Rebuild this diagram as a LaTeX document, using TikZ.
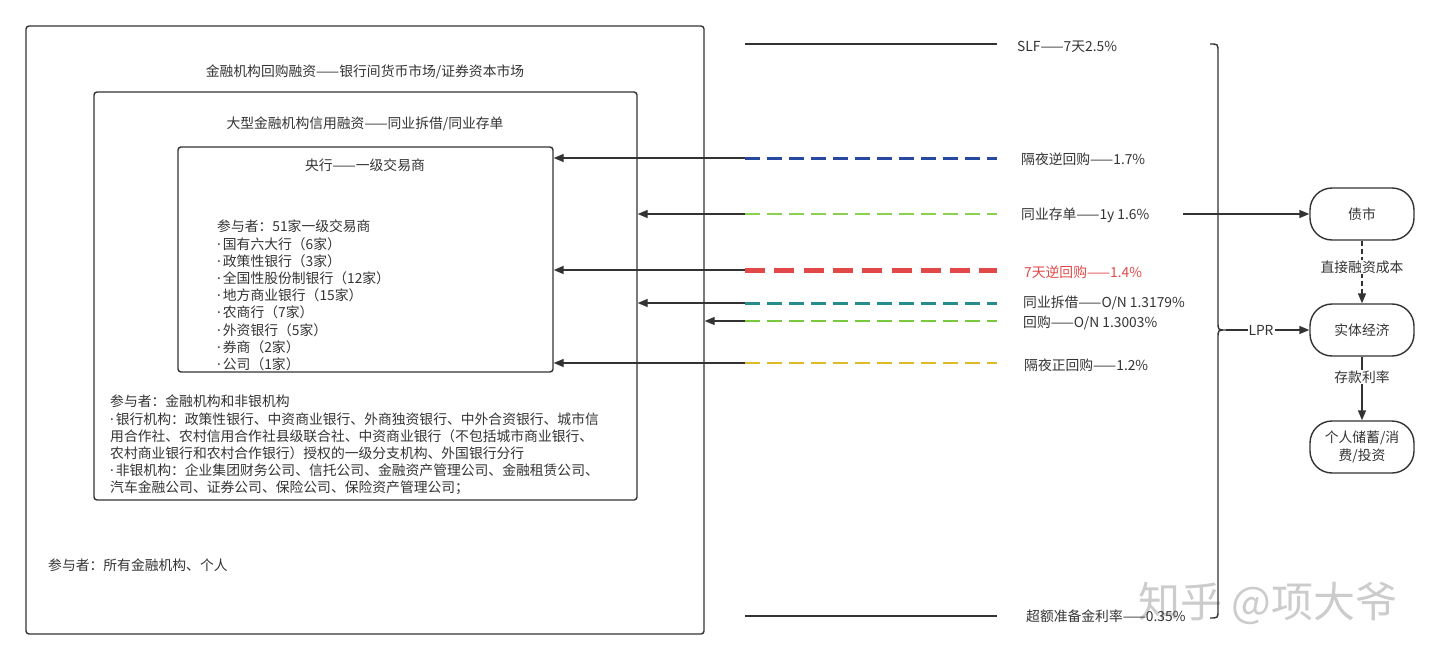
\documentclass[tikz,border=0pt]{standalone}
\usepackage{fontspec}
\setmainfont{Noto Sans CJK SC}
\newfontfamily\latinfont{Noto Sans}
\newcommand\mdot{{\latinfont ·}\kern2pt}
\usetikzlibrary{arrows.meta}
\definecolor{ink}{HTML}{333333}
\definecolor{cblue}{RGB}{41,72,160}
\definecolor{cgreen}{RGB}{140,208,80}
\definecolor{cred}{RGB}{226,72,72}
\definecolor{cteal}{RGB}{38,140,140}
\definecolor{cgreenb}{RGB}{122,200,62}
\definecolor{cyellow}{RGB}{222,186,40}
\begin{document}
\begin{tikzpicture}[x=1pt,y=-1pt,
  font=\fontsize{13.8}{17.2}\selectfont, text=ink,
  box/.style={draw=ink, line width=1.4pt, rounded corners=3pt, inner sep=0pt},
  pill/.style={draw=ink, line width=1.4pt, rounded corners=22pt, minimum width=104pt, minimum height=52pt, align=center, inner sep=0pt},
  lbl/.style={anchor=west, inner sep=0pt},
  conn/.style={draw=ink, line width=1.4pt, -{Triangle[length=10pt,width=8pt]}},
  rate/.style={line width=#1, dash pattern=on 15pt off 7pt},
  txt/.style={inner sep=0pt, align=left, anchor=north west}
]
\useasboundingbox (0,0) rectangle (1440,661);

% boxes
\node[box, minimum width=678pt, minimum height=608pt] (fm) at (365,330) {};
\node[box, minimum width=543pt, minimum height=408pt] (ib) at (365.5,296) {};
\node[box, minimum width=375pt, minimum height=225pt] (pd) at (365.5,259.5) {};

\node[inner sep=0pt] (t1) at (365,72) {金融机构回购融资——银行间货币市场/证券资本市场};
\node[inner sep=0pt] (t2) at (365,124) {大型金融机构信用融资——同业拆借/同业存单};
\node[inner sep=0pt] (t3) at (365,165) {央行——一级交易商};

\node[txt] (p1) at (217,220) {参与者：51家一级交易商\\
\mdot 国有六大行（6家）\\
\mdot 政策性银行（3家）\\
\mdot 全国性股份制银行（12家）\\
\mdot 地方商业银行（15家）\\
\mdot 农商行（7家）\\
\mdot 外资银行（5家）\\
\mdot 券商（2家）\\
\mdot 公司（1家）};

\node[txt] (p2) at (110,395) {参与者：金融机构和非银机构\\
\mdot 银行机构：政策性银行、中资商业银行、外商独资银行、中外合资银行、城市信\\
用合作社、农村信用合作社县级联合社、中资商业银行（不包括城市商业银行、\\
农村商业银行和农村合作银行）授权的一级分支机构、外国银行分行\\
\mdot 非银机构：企业集团财务公司、信托公司、金融资产管理公司、金融租赁公司、\\
汽车金融公司、证券公司、保险公司、保险资产管理公司；};

\node[lbl] (p3) at (48,565) {参与者：所有金融机构、个人};

% rate lines
\coordinate (s0) at (745,44);  \coordinate (s1) at (997,44);
\coordinate (b0) at (745,158); \coordinate (b1) at (997,158);
\coordinate (g0) at (745,214); \coordinate (g1) at (997,214);
\coordinate (r0) at (745,270); \coordinate (r1) at (997,270);
\coordinate (c0) at (745,303); \coordinate (c1) at (997,303);
\coordinate (h0) at (745,321); \coordinate (h1) at (997,321);
\coordinate (y0) at (745,363); \coordinate (y1) at (997,363);
\coordinate (e0) at (745,616); \coordinate (e1) at (997,616);

\draw[ink, line width=1.4pt] (s0) -- (s1);
\draw[ink, line width=1.4pt] (e0) -- (e1);

\draw[conn] (b0) -- (pd.east |- b0);
\draw[conn] (g0) -- (ib.east |- g0);
\draw[conn, line width=1.8pt] (r0) -- (pd.east |- r0);
\draw[conn] (c0) -- (ib.east |- c0);
\draw[conn] (h0) -- (fm.east |- h0);
\draw[conn] (y0) -- (pd.east |- y0);

\draw[cblue, rate=3pt] (b0) -- (b1);
\draw[cgreen, rate=2.6pt] (g0) -- (g1);
\draw[cred, line width=5pt, dash pattern=on 20pt off 9.3pt] (r0) -- (r1);
\draw[cteal, rate=3pt] (c0) -- (c1);
\draw[cgreenb, rate=2.6pt] (h0) -- (h1);
\draw[cyellow, rate=2.6pt] (y0) -- (y1);

% watermark (behind the label it crosses)
\node[text=gray!40, font=\fontsize{42}{44}\selectfont, inner sep=0pt] (wm) at (1268,603) {知乎 @项大爷};

\node[lbl] (ls) at (1017,47) {SLF——7天2.5\%};
\node[lbl] (lb) at (1021,159) {隔夜逆回购——1.7\%};
\node[lbl] (lg) at (1021,215) {同业存单——1y 1.6\%};
\node[lbl, text=cred] (lr) at (1024,272) {7天逆回购——1.4\%};
\node[lbl] (lc) at (1023,303) {同业拆借——O/N 1.3179\%};
\node[lbl] (lh) at (1023,323) {回购——O/N 1.3003\%};
\node[lbl] (ly) at (1024,365) {隔夜正回购——1.2\%};
\node[lbl] (le) at (1026,616) {超额准备金利率——0.35\%};

% brace
\draw[ink, line width=1.4pt] (1210,44) .. controls (1218,44) .. (1218,52) -- (1218,322)
  .. controls (1218,330) .. (1226,330) .. controls (1218,330) .. (1218,338)
  -- (1218,610) .. controls (1218,618) .. (1210,618);
\coordinate (tip) at (1226,330);

% right boxes
\node[pill] (zs) at (1362,214) {债市};
\node[pill] (sj) at (1362,330) {实体经济};
\node[pill] (gr) at (1362,447) {个人储蓄/消\\费/投资};

\coordinate (gs) at (1183,214);
\draw[conn] (gs) -- (zs.west);
\draw[conn] (tip) -- (sj.west);
\node[fill=white, inner sep=1pt] (lpr) at (1261,330) {LPR};
\draw[conn, dash pattern=on 5pt off 3pt] (zs.south) -- (sj.north);
\node[fill=white, inner sep=1pt] (l1) at (1362,267) {直接融资成本};
\draw[conn] (sj.south) -- (gr.north);
\node[fill=white, inner sep=1pt] (l2) at (1362,377) {存款利率};
\end{tikzpicture}
\end{document}
